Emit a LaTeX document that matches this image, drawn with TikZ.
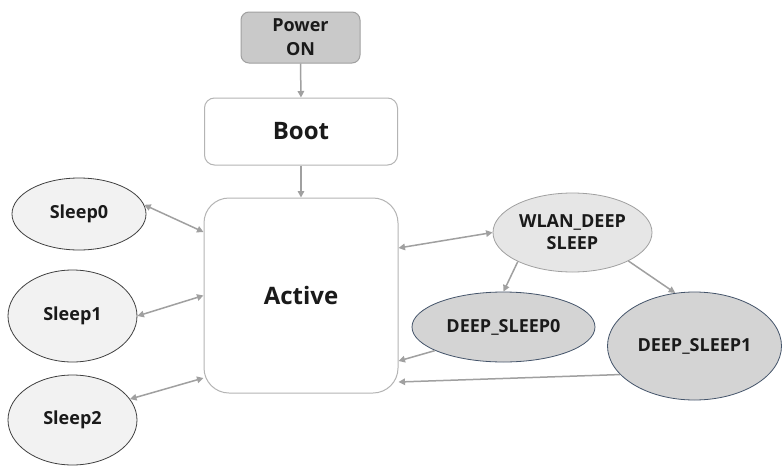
\documentclass[tikz,border=0pt]{standalone}
\usepackage{fontspec}
\setmainfont{Open Sans}
\usetikzlibrary{shapes.geometric,arrows.meta}
\definecolor{linkgray}{HTML}{A0A0A0}
\definecolor{boxline}{HTML}{B4B4B4}
\definecolor{pwrfill}{HTML}{C9C9C9}
\definecolor{sleepfill}{HTML}{F2F2F2}
\definecolor{wlanfill}{HTML}{E6E6E6}
\definecolor{deepfill}{HTML}{D4D4D4}
\definecolor{deepline}{HTML}{44546A}
\definecolor{txt}{HTML}{1A1A1A}
\tikzset{
  bigtxt/.style={font=\bfseries\fontsize{24}{28}\selectfont, text=txt},
  smalltxt/.style={font=\bfseries\fontsize{18}{21}\selectfont, text=txt, align=center},
  stepbox/.style={draw=boxline, line width=1pt, fill=white, inner sep=0pt},
  pwrbox/.style={draw=linkgray, line width=1pt, fill=pwrfill, rounded corners=8pt, inner sep=0pt, minimum width=119pt, minimum height=51pt, smalltxt},
  sleepnode/.style={ellipse, draw=black!75, line width=0.8pt, fill=sleepfill, inner sep=0pt, smalltxt},
  wlannode/.style={ellipse, draw=linkgray, line width=0.8pt, fill=wlanfill, inner sep=0pt, smalltxt},
  deepnode/.style={ellipse, draw=deepline, line width=0.8pt, fill=deepfill, inner sep=0pt, smalltxt},
  link/.style={draw=linkgray, line width=1.5pt, -{Triangle[length=6.5pt,width=6.5pt]}},
  dlink/.style={draw=linkgray, line width=1.5pt, {Triangle[length=6.5pt,width=6.5pt]}-{Triangle[length=6.5pt,width=6.5pt]}},
}
\begin{document}
\begin{tikzpicture}[x=1pt, y=-1pt]
\useasboundingbox (0,0) rectangle (782,466);
\fill[white] (0,0) rectangle (782,466);

\node[pwrbox] (pwr) at (300.5,37.5) {Power\\[3pt]ON};
\node[stepbox, rounded corners=10pt, minimum width=193pt, minimum height=67pt, bigtxt] (boot) at (301,131.5) {Boot};
\node[stepbox, rounded corners=25pt, minimum width=194pt, minimum height=195pt, bigtxt] (act) at (301,295.5) {Active};

\node[sleepnode, minimum width=134pt, minimum height=72pt] (s0) at (79,214) {Sleep0};
\node[sleepnode, minimum width=129pt, minimum height=92pt] (s1) at (72.5,316) {Sleep1};
\node[sleepnode, minimum width=129pt, minimum height=90pt] (s2) at (72.5,420) {Sleep2};

\node[wlannode, minimum width=159pt, minimum height=79pt] (wlan) at (572.5,232.5) {WLAN\_DEEP\\[1pt]SLEEP};
\node[deepnode, minimum width=183pt, minimum height=70pt] (ds0) at (503.5,327) {DEEP\_SLEEP0};
\node[deepnode, minimum width=174pt, minimum height=108pt] (ds1) at (694.5,346) {DEEP\_SLEEP1};

\draw[link] (pwr.south) -- (boot.north);
\draw[link] (boot.south) -- (act.north);

\draw[dlink] (s0.8) -- ([yshift=63.5pt]act.west);
\draw[dlink] (s1.east) -- (act.west);
\draw[dlink] (s2.20) -- ([yshift=-82.5pt]act.west);

\draw[dlink] ([yshift=47.5pt]act.east) -- (wlan.west);
\draw[link] (wlan.208) -- (ds0.north);
\draw[link] (wlan.-27) -- (ds1.110);
\draw[link] (ds0.199) -- ([yshift=-65.5pt]act.east);
\draw[link] (ds1.201) -- ([yshift=-86.5pt]act.east);
\end{tikzpicture}
\end{document}
